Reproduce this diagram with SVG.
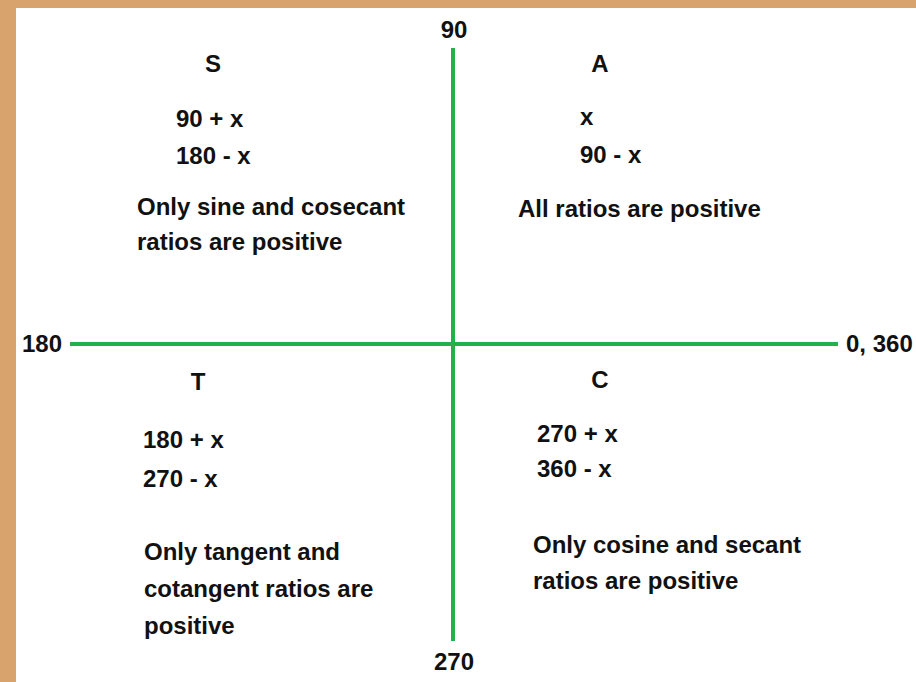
<svg xmlns="http://www.w3.org/2000/svg" width="916" height="682" viewBox="0 0 916 682">
<style>
text{font-family:"Liberation Sans",Arial,sans-serif;font-weight:bold;font-size:24px;fill:#111}
.c{text-anchor:middle}
.ax{stroke:#22b14c;stroke-width:4;fill:none}
</style>
<rect x="0" y="0" width="916" height="682" fill="#ffffff"/>
<rect x="0" y="0" width="916" height="8" fill="#d9a36e"/>
<rect x="0" y="0" width="16" height="682" fill="#d9a36e"/>
<g id="connectors">
<line class="ax" x1="453" y1="48" x2="453" y2="641"/>
<line class="ax" x1="70" y1="344" x2="838" y2="344"/>
</g>
<g id="axis-labels">
<text class="c" x="454" y="38">90</text>
<text class="c" x="454" y="670">270</text>
<text x="22" y="352">180</text>
<text x="846" y="352">0, 360</text>
</g>
<g id="quadrant-S">
<text class="c" x="213" y="72">S</text>
<text x="176" y="127">90 + x</text>
<text x="176" y="164">180 - x</text>
<text x="137" y="215">Only sine and cosecant</text>
<text x="137" y="250">ratios are positive</text>
</g>
<g id="quadrant-A">
<text class="c" x="600" y="72">A</text>
<text x="580" y="125">x</text>
<text x="580" y="163">90 - x</text>
<text x="518" y="217">All ratios are positive</text>
</g>
<g id="quadrant-T">
<text class="c" x="198" y="390">T</text>
<text x="143" y="448">180 + x</text>
<text x="143" y="487">270 - x</text>
<text x="144" y="560">Only tangent and</text>
<text x="144" y="597">cotangent ratios are</text>
<text x="144" y="634">positive</text>
</g>
<g id="quadrant-C">
<text class="c" x="600" y="388">C</text>
<text x="537" y="442">270 + x</text>
<text x="537" y="477">360 - x</text>
<text x="533" y="553">Only cosine and secant</text>
<text x="533" y="589">ratios are positive</text>
</g>
</svg>
